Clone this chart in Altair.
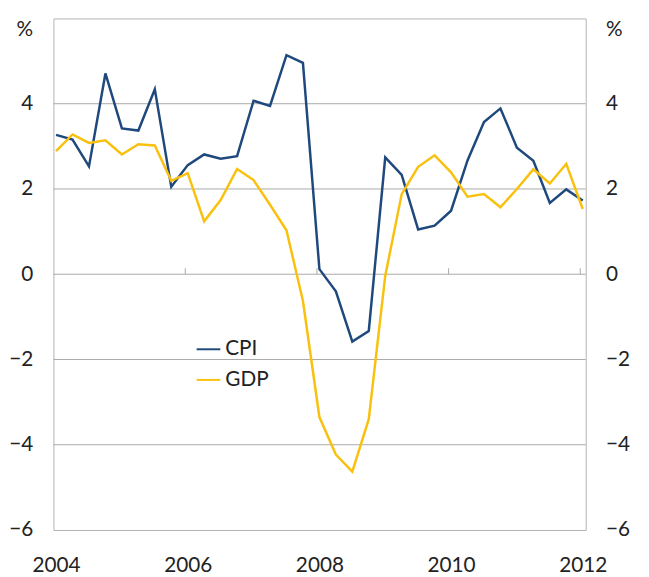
import altair as alt
import pandas as pd

# Quarterly, 2004 Q1 .. 2012 Q1 (33 points), year-ended % change
cpi = [3.27, 3.16, 2.53, 4.71, 3.42, 3.37, 4.34, 2.05,
       2.56, 2.81, 2.71, 2.77, 4.07, 3.95, 5.14, 4.96,
       0.12, -0.40, -1.58, -1.33, 2.74, 2.33, 1.05, 1.14,
       1.49, 2.67, 3.57, 3.89, 2.97, 2.66, 1.67, 1.99, 1.73]
gdp = [2.89, 3.28, 3.08, 3.14, 2.81, 3.05, 3.02, 2.19,
       2.37, 1.24, 1.74, 2.47, 2.21, 1.63, 1.03, -0.63,
       -3.35, -4.23, -4.63, -3.40, -0.04, 1.88, 2.52, 2.79,
       2.39, 1.82, 1.88, 1.57, 2.00, 2.46, 2.13, 2.59, 1.53]
series_names = ["CPI", "GDP"]
series_colors = ["#1f497d", "#f9c10e"]
x_ticks = [2004, 2006, 2008, 2010, 2012]
y_ticks = [-6, -4, -2, 0, 2, 4, 6]
grid_values = [-4, -2, 0, 2, 4]
inner_ticks = [2006, 2008, 2010, 2012]

t = [2004 + 0.25 * i for i in range(len(cpi))]
df = pd.DataFrame({
    "t": t * 2,
    "value": cpi + gdp,
    "series": ["CPI"] * len(cpi) + ["GDP"] * len(gdp),
})

FONT = "Lato"
FS = 21
LBL = "#222222"
xscale = alt.Scale(domain=[2003.96, 2012.045], nice=False, zero=False)
yscale = alt.Scale(domain=[-6, 6], nice=False)

x_axis = alt.Axis(values=x_ticks, format="d", title=None, grid=False,
                  ticks=False, domain=False, labelPadding=25,
                  labelFont=FONT, labelFontSize=FS, labelColor=LBL,
                  labelFlush=False)


def y_axis(orient, pad):
    return alt.Axis(orient=orient, values=y_ticks, title=None, grid=False, ticks=False,
                    domain=False, labelPadding=pad, labelFont=FONT,
                    labelFontSize=FS, labelColor=LBL, labelFlush=False,
                    labelExpr="datum.value == 6 ? '%' : datum.label",
                    labelBaseline={"condition": {"test": "datum.value == 6", "value": "top"},
                                   "value": "middle"})


grid = alt.Chart(pd.DataFrame({"g": grid_values})).mark_rule(
    color="#a9a9a9", strokeWidth=1
).encode(y=alt.Y("g:Q", scale=yscale, axis=y_axis("left", 21)))

ticks = alt.Chart(pd.DataFrame({"tx": inner_ticks, "y0": [0] * 4, "y1": [0.14] * 4})).mark_rule(
    color="#a9a9a9", strokeWidth=1, xOffset=-2.5
).encode(
    x=alt.X("tx:Q", scale=xscale, axis=x_axis),
    y=alt.Y("y0:Q", scale=yscale, axis=None),
    y2="y1:Q",
)

lines = alt.Chart(df).mark_line(strokeWidth=2.5).encode(
    x=alt.X("t:Q", scale=xscale, axis=x_axis),
    y=alt.Y("value:Q", scale=yscale, axis=y_axis("right", 20)),
    color=alt.Color("series:N",
                    scale=alt.Scale(domain=series_names, range=series_colors),
                    legend=alt.Legend(orient="none", legendX=144, legendY=322,
                                      title=None, symbolType="stroke",
                                      symbolSize=576, symbolStrokeWidth=2,
                                      labelFont=FONT, labelFontSize=FS,
                                      labelColor=LBL, labelOffset=4,
                                      rowPadding=8)),
)

chart = alt.layer(grid, ticks, lines).resolve_scale(y="independent").properties(
    width=539, height=518,
    autosize=alt.AutoSizeParams(type="none"),
    padding={"left": 46, "top": 7, "right": 56, "bottom": 44},
).configure_view(stroke="#b3b3b3", strokeWidth=1)

chart.save("out.html", embed_options={"renderer": "svg", "actions": False})
